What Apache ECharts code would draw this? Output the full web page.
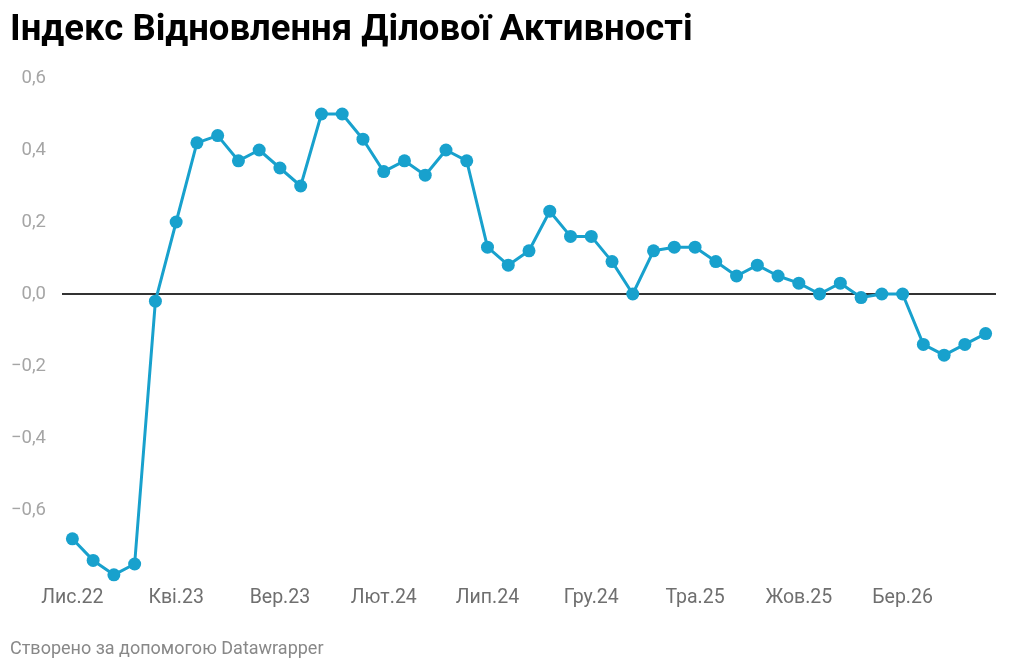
<!DOCTYPE html>
<html>
<head>
<meta charset="utf-8">
<script src="https://cdn.jsdelivr.net/npm/echarts@6/dist/echarts.min.js"></script>
<style>
  html, body { margin: 0; padding: 0; background: #fff; }
  #chart { width: 1010px; height: 671px; }
</style>
</head>
<body>
<div id="chart"></div>
<script>
// місяці: листопад 2022 - липень 2026
var months = [
    'Лис.22', 'Гру.22',
    'Січ.23', 'Лют.23', 'Бер.23', 'Кві.23', 'Тра.23', 'Чер.23', 'Лип.23', 'Сер.23', 'Вер.23', 'Жов.23', 'Лис.23', 'Гру.23',
    'Січ.24', 'Лют.24', 'Бер.24', 'Кві.24', 'Тра.24', 'Чер.24', 'Лип.24', 'Сер.24', 'Вер.24', 'Жов.24', 'Лис.24', 'Гру.24',
    'Січ.25', 'Лют.25', 'Бер.25', 'Кві.25', 'Тра.25', 'Чер.25', 'Лип.25', 'Сер.25', 'Вер.25', 'Жов.25', 'Лис.25', 'Гру.25',
    'Січ.26', 'Лют.26', 'Бер.26', 'Кві.26', 'Тра.26', 'Чер.26', 'Лип.26'
];

var indexValues = [
    -0.68, -0.74,
    -0.78, -0.75, -0.02, 0.20, 0.42, 0.44, 0.37, 0.40, 0.35, 0.30, 0.50, 0.50,
    0.43, 0.34, 0.37, 0.33, 0.40, 0.37, 0.13, 0.08, 0.12, 0.23, 0.16, 0.16,
    0.09, 0.00, 0.12, 0.13, 0.13, 0.09, 0.05, 0.08, 0.05, 0.03, 0.00, 0.03,
    -0.01, 0.00, 0.00, -0.14, -0.17, -0.14, -0.11
];

var yTicks = [-0.8, -0.6, -0.4, -0.2, 0, 0.2, 0.4, 0.6];

var title = 'Індекс Відновлення Ділової Активності';
var source = 'Створено за допомогою Datawrapper';

function fmt(v) {
    if (Math.abs(v + 0.8) < 1e-9) return '';   // нижню мітку не показуємо
    return v.toFixed(1).replace('.', ',').replace('-', '\u2212');
}

var chart = echarts.init(document.getElementById('chart'));

chart.setOption({
    backgroundColor: '#fff',
    animation: false,
    title: [
        {
            text: title,
            left: 5,
            top: 7,
            textStyle: { fontFamily: 'Roboto', fontWeight: 'bold', fontSize: 36.5, color: '#000' }
        },
        {
            text: source,
            left: 5,
            top: 635,
            textStyle: { fontFamily: 'Roboto', fontWeight: 'normal', fontSize: 18, color: '#888' }
        }
    ],
    grid: { left: 62, right: 14, top: 78, bottom: 89, containLabel: false },
    xAxis: {
        type: 'category',
        data: months,
        boundaryGap: true,
        axisLine: { show: false },
        axisTick: { show: false },
        axisLabel: {
            interval: 4,
            margin: 6,
            color: '#6f6f6f',
            fontFamily: 'Roboto',
            fontSize: 19.5
        },
        splitLine: { show: false }
    },
    yAxis: {
        type: 'value',
        min: yTicks[0],
        max: yTicks[yTicks.length - 1],
        interval: 0.2,
        axisLine: { show: false },
        axisTick: { show: false },
        axisLabel: {
            formatter: fmt,
            margin: 16,
            color: '#a5a5a5',
            fontFamily: 'Roboto',
            fontSize: 18.5
        },
        splitLine: {
            show: true,
            lineStyle: {
                width: 2,
                color: yTicks.map(function (t) { return t === 0 ? '#333' : 'rgba(0,0,0,0)'; })
            }
        }
    },
    series: [
        {
            name: title,
            type: 'line',
            data: indexValues,
            symbol: 'circle',
            symbolSize: 13,
            showAllSymbol: true,
            lineStyle: { color: '#18a1cd', width: 3 },
            itemStyle: { color: '#18a1cd' }
        }
    ]
});
</script>
</body>
</html>
